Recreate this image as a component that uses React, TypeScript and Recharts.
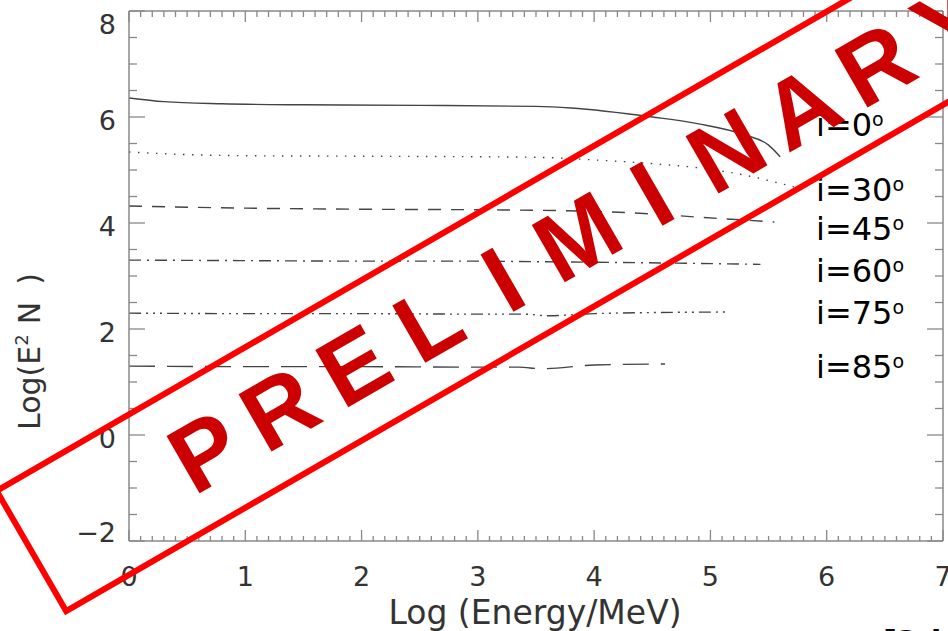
import React from "react"
import { Line, LineChart, XAxis, YAxis } from "recharts"

// log energy (MeV) and log(E^2 N), one pair per inclination
const x0 = [0, 0.3, 0.8, 1.5, 2.5, 3.5, 3.8, 4.5, 4.9, 5.3, 5.5, 5.6]
const y0 = [6.36, 6.29, 6.25, 6.23, 6.22, 6.2, 6.17, 6.0, 5.87, 5.66, 5.47, 5.25]
const x30 = [0, 0.5, 1, 2, 3, 3.5, 4, 4.5, 4.9, 5.3, 5.72]
const y30 = [5.34, 5.29, 5.27, 5.26, 5.25, 5.24, 5.19, 5.12, 5.04, 4.9, 4.68]
const x45 = [0, 1, 2, 3, 3.5, 4, 4.5, 4.9, 5.55]
const y45 = [4.32, 4.28, 4.26, 4.25, 4.24, 4.22, 4.17, 4.11, 4.02]
const x60 = [0, 1, 2, 3, 3.5, 4, 4.8, 5.43]
const y60 = [3.3, 3.29, 3.28, 3.28, 3.27, 3.26, 3.24, 3.22]
const x75 = [0, 1, 2, 3, 3.4, 3.6, 4, 4.5, 5.13]
const y75 = [2.3, 2.29, 2.29, 2.28, 2.28, 2.25, 2.29, 2.31, 2.32]
const x85 = [0, 1, 2, 3, 3.35, 3.55, 4, 4.61]
const y85 = [1.3, 1.29, 1.29, 1.28, 1.28, 1.25, 1.32, 1.34]

const angles = ["0", "30", "45", "60", "75", "85"]
const xTicks = Array.from({ length: 71 }, (_, i) => +(i * 0.1).toFixed(1))
const yTicks = Array.from({ length: 21 }, (_, i) => -2 + i * 0.5)
const stamp = "PRELIMINARY".split("")

const zip = (xs: number[], ys: number[]) => xs.map((x, i) => ({ x, y: ys[i] }))

const series = [
  { data: zip(x0, y0), dash: undefined },
  { data: zip(x30, y30), dash: "1.5 7.5" },
  { data: zip(x45, y45), dash: "13 10" },
  { data: zip(x60, y60), dash: "12 6 2 6" },
  { data: zip(x75, y75), dash: "12 5 2 5 2 5 2 5" },
  { data: zip(x85, y85), dash: "26 12" },
]

const labelY = [136, 201, 240, 282, 324, 378]
const axisColor = "#888888"
const tickFont = { fontFamily: "DejaVu Sans", fontSize: 27, fill: "#333" }

// stamp geometry (rotated frame)
const sx = 577
const sy = 236

const isMajor = (v: number, step: number) => Math.abs(v / step - Math.round(v / step)) < 1e-6

function BottomTick({ x, y, payload }: any) {
  const v = payload.value
  const major = isMajor(v, 1)
  return (
    <g>
      <line x1={x} x2={x} y1={y} y2={y - (major ? 11 : 5)} stroke={axisColor} strokeWidth={1.3} />
      {major && (
        <text x={x} y={y + 45} textAnchor="middle" {...tickFont}>
          {v}
        </text>
      )}
    </g>
  )
}

function TopTick({ x, y, payload }: any) {
  const major = isMajor(payload.value, 1)
  return <line x1={x} x2={x} y1={y} y2={y + (major ? 11 : 6)} stroke={axisColor} strokeWidth={1.3} />
}

function LeftTick({ x, y, payload }: any) {
  const v = payload.value
  const major = isMajor(v, 2)
  let dy = 3
  if (v === 8) dy = 13
  if (v === -2) dy = -9
  return (
    <g>
      <line x1={x} x2={x + (major ? 16 : 8)} y1={y} y2={y} stroke={axisColor} strokeWidth={1.3} />
      {major && (
        <text x={116} y={y + dy + 9.5} textAnchor="end" {...tickFont}>
          {v < 0 ? `\u2212${Math.abs(v)}` : v}
        </text>
      )}
    </g>
  )
}

function RightTick({ x, y, payload }: any) {
  const major = isMajor(payload.value, 2)
  return <line x1={x} x2={x - (major ? 16 : 8)} y1={y} y2={y} stroke={axisColor} strokeWidth={1.3} />
}

export default function App() {
  return (
    <div style={{ position: "absolute", left: 0, top: 0, width: 948, height: 631, overflow: "hidden", background: "#fff" }}>
      <LineChart width={948} height={631} margin={{ top: 10, right: 4, left: 49, bottom: 30 }}>
        <XAxis
          dataKey="x"
          type="number"
          domain={[0, 7]}
          ticks={xTicks}
          interval={0}
          height={60}
          tickSize={0}
          tickMargin={0}
          tickLine={false}
          axisLine={{ stroke: axisColor, strokeWidth: 1.5 }}
          tick={<BottomTick />}
          allowDataOverflow
        />
        <XAxis
          xAxisId="top"
          orientation="top"
          dataKey="x"
          type="number"
          domain={[0, 7]}
          ticks={xTicks}
          interval={0}
          height={1}
          tickSize={0}
          tickMargin={0}
          tickLine={false}
          axisLine={{ stroke: axisColor, strokeWidth: 1.5 }}
          tick={<TopTick />}
          allowDataOverflow
        />
        <YAxis
          type="number"
          domain={[-2, 8]}
          ticks={yTicks}
          interval={0}
          width={80}
          tickSize={0}
          tickMargin={0}
          tickLine={false}
          axisLine={{ stroke: axisColor, strokeWidth: 1.5 }}
          tick={<LeftTick />}
          allowDataOverflow
        />
        <YAxis
          yAxisId="right"
          orientation="right"
          type="number"
          domain={[-2, 8]}
          ticks={yTicks}
          interval={0}
          width={1}
          tickSize={0}
          tickMargin={0}
          tickLine={false}
          axisLine={{ stroke: axisColor, strokeWidth: 1.5 }}
          tick={<RightTick />}
          allowDataOverflow
        />
        {series.map((s, i) => (
          <Line
            key={angles[i]}
            data={s.data}
            dataKey="y"
            type="monotone"
            stroke="#444"
            strokeWidth={1.4}
            strokeDasharray={s.dash}
            dot={false}
            activeDot={false}
            isAnimationActive={false}
          />
        ))}
      </LineChart>
      <svg width={948} height={631} style={{ position: "absolute", left: 0, top: 0, pointerEvents: "none" }}>
        <text x={535} y={624} textAnchor="middle" fontFamily="DejaVu Sans" fontSize={33} fill="#333">
          Log (Energy/MeV)
        </text>
        <text transform="rotate(-90)" x={-430} y={40} fontFamily="DejaVu Sans" fontSize={30} fill="#333">
          Log(E
          <tspan fontSize={18} dy={-12}>2</tspan>
          <tspan dy={12} dx={10}>N</tspan>
          <tspan dx={17}>)</tspan>
        </text>
        {angles.map((a, i) => (
          <text key={a} x={816} y={labelY[i]} fontFamily="DejaVu Sans" fontSize={32} fill="#000">
            i={a}
            <tspan fontSize={19} dy={-10}>o</tspan>
          </text>
        ))}
        <text y={652} fontFamily="DejaVu Sans" fontWeight="bold" fontSize={30} fill="#000">
          <tspan x={883}>[2</tspan>
          <tspan x={931}>i</tspan>
        </text>
        <g transform={`rotate(-30 ${sx} ${sy})`}>
          <rect x={sx - 630} y={sy - 69.5} width={1260} height={139} fill="none" stroke="#ff0000" strokeWidth={6} />
          {stamp.map((ch, i) => (
            <text
              key={i}
              x={sx + (i - 5) * 86}
              y={sy + 34}
              textAnchor="middle"
              fontFamily="Liberation Sans"
              fontWeight="bold"
              fontSize={96}
              fill="#cc0000"
            >
              {ch}
            </text>
          ))}
        </g>
      </svg>
    </div>
  )
}
